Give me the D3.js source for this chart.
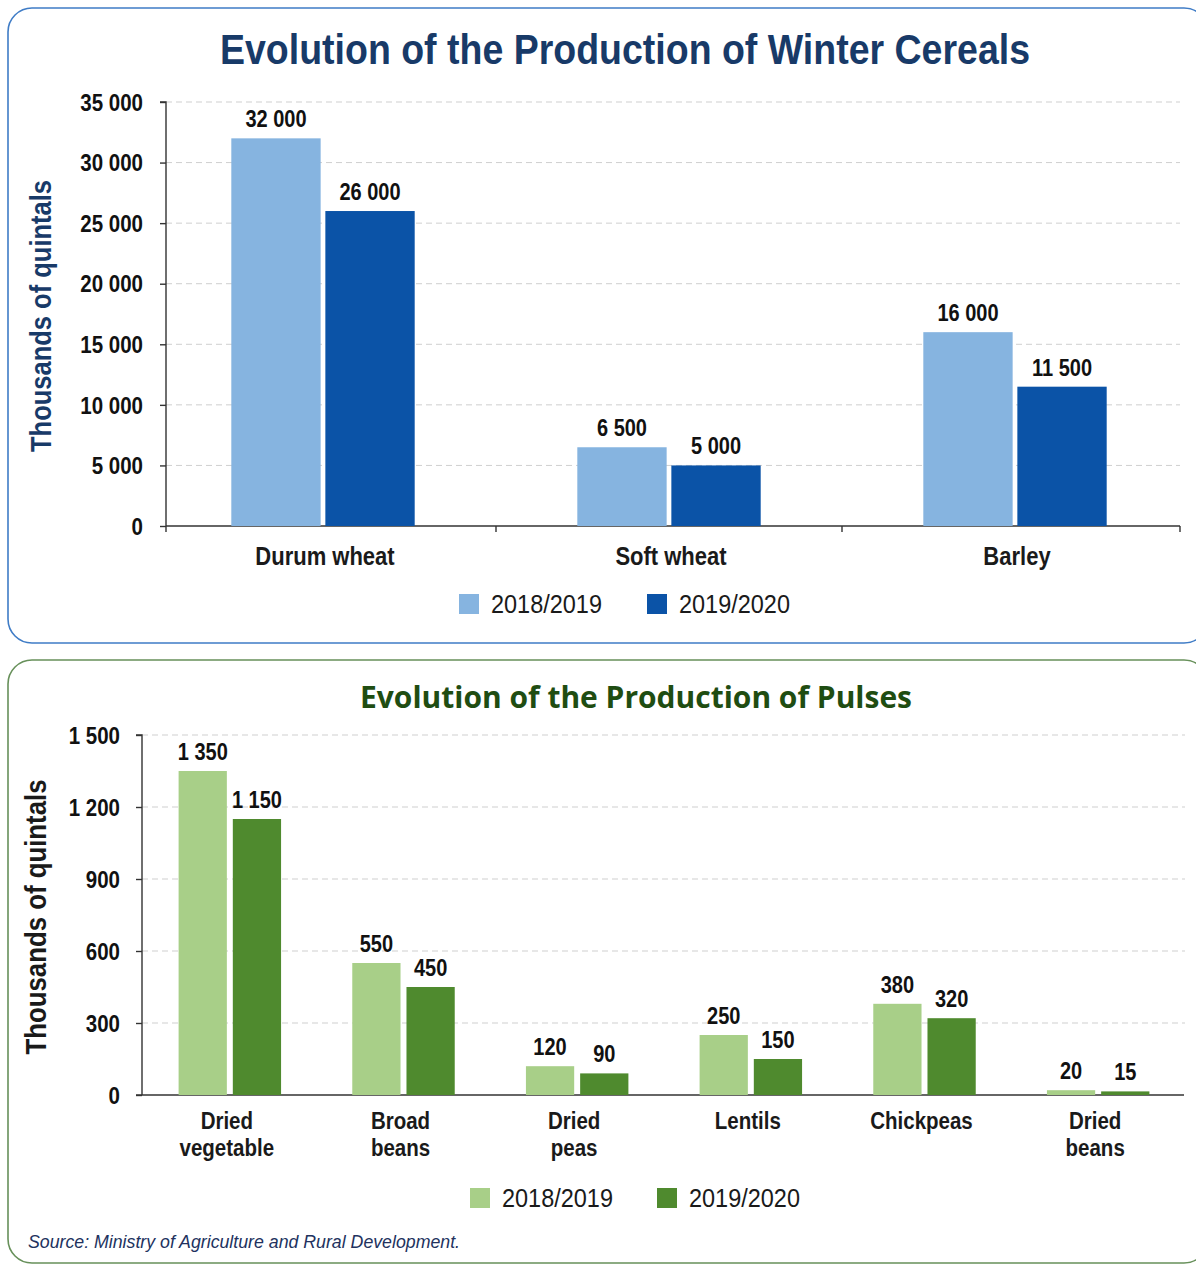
<!DOCTYPE html>
<html><head><meta charset="utf-8">
<script src="https://cdn.jsdelivr.net/npm/d3@7"></script>
<style>
html,body{margin:0;padding:0;background:#fff;}
svg{display:block;}
</style></head>
<body>
<svg id="chart" width="1196" height="1264"></svg>
<script>
// ---------- DATA ----------
const series = ["2018/2019", "2019/2020"];
const cerealCategories = ["Durum wheat", "Soft wheat", "Barley"];
const cereal2018 = [32000, 6500, 16000];
const cereal2019 = [26000, 5000, 11500];
const cerealTicks = [0, 5000, 10000, 15000, 20000, 25000, 30000, 35000];

const pulseCategories = [["Dried","vegetable"], ["Broad","beans"], ["Dried","peas"], ["Lentils"], ["Chickpeas"], ["Dried","beans"]];
const pulse2018 = [1350, 550, 120, 250, 380, 20];
const pulse2019 = [1150, 450, 90, 150, 320, 15];
const pulseTicks = [0, 300, 600, 900, 1200, 1500];

const titleCereals = "Evolution of the Production of Winter Cereals";
const titlePulses = "Evolution of the Production of Pulses";
const yTitle = "Thousands of quintals";
const sourceText = "Source: Ministry of Agriculture and Rural Development.";

// ---------- HELPERS ----------
const F = '"Liberation Sans", Arial, sans-serif';
const K = 1.18;        // enlarge glyphs, then squeeze horizontally (narrow look)
const fmt = v => d3.format(",")(v).replace(/,/g, " ");
const svg = d3.select("#chart").attr("font-family", F);

function condense(sel) {
  sel.each(function () {
    const w = this.getComputedTextLength();
    if (w > 0) d3.select(this).attr("textLength", w / K).attr("lengthAdjust", "spacingAndGlyphs");
  });
}

function panel(cfg) {
  const g = svg.append("g");
  g.append("rect").attr("x", cfg.box[0]).attr("y", cfg.box[1])
    .attr("width", cfg.box[2]).attr("height", cfg.box[3])
    .attr("rx", 24).attr("ry", 24)
    .attr("fill", "#fff").attr("stroke", cfg.border).attr("stroke-width", 1.6);
  g.append("text").attr("x", cfg.titlePos[0]).attr("y", cfg.titlePos[1])
    .attr("text-anchor", "middle").attr("font-weight", "bold")
    .attr("font-family", cfg.titleFont)
    .attr("font-size", cfg.titleSize).attr("fill", cfg.titleColor)
    .attr("textLength", cfg.titleLen).attr("lengthAdjust", "spacingAndGlyphs")
    .text(cfg.title);

  const y = d3.scaleLinear().domain(cfg.yDomain).range(cfg.yRange);
  const x0 = d3.scaleBand().domain(d3.range(cfg.cats.length)).range(cfg.xRange)
    .paddingInner(cfg.padInner).paddingOuter(cfg.padOuter);
  const x1 = d3.scaleBand().domain(series).range([0, x0.bandwidth()]).paddingInner(cfg.barGap);
  const color = d3.scaleOrdinal().domain(series).range(cfg.colors);

  g.append("g").selectAll("line").data(cfg.ticks.filter(t => t > 0)).join("line")
    .attr("x1", cfg.axisX).attr("x2", cfg.gridEnd)
    .attr("y1", d => y(d)).attr("y2", d => y(d))
    .attr("stroke", "#cfcfcf").attr("stroke-width", 1).attr("stroke-dasharray", "6,4");

  const yAxis = d3.axisLeft(y).tickValues(cfg.ticks).tickFormat(fmt).tickSize(6).tickPadding(cfg.tickPad);
  const ya = g.append("g").attr("transform", `translate(${cfg.axisX},0)`).call(yAxis);
  ya.attr("font-family", F);
  ya.select(".domain").attr("stroke", "#333").attr("stroke-width", 1.4).attr("d", `M-6,${y(cfg.yDomain[1])}H0V${y(0)}`);
  ya.selectAll(".tick line").attr("stroke", "#333").attr("stroke-width", 1.4);
  ya.selectAll(".tick text").attr("font-size", cfg.tickSize * K).attr("font-weight", "bold")
    .attr("fill", "#111").attr("dy", "0.34em").call(condense);

  g.append("line").attr("x1", cfg.xAxisStart).attr("x2", cfg.xAxisEnd)
    .attr("y1", y(0)).attr("y2", y(0)).attr("stroke", "#333").attr("stroke-width", 1.6);
  if (cfg.xTicks) {
    const bounds = [cfg.axisX].concat(d3.range(1, cfg.cats.length).map(i => x0(i) - x0.step() * x0.paddingInner() / 2)).concat([cfg.xAxisEnd]);
    g.append("g").selectAll("line").data(bounds).join("line")
      .attr("x1", d => d).attr("x2", d => d).attr("y1", y(0)).attr("y2", y(0) + 6)
      .attr("stroke", "#333").attr("stroke-width", 1.4);
  }

  const rows = cfg.cats.map((c, i) => ({ i, vals: [cfg.v1[i], cfg.v2[i]] }));
  const grp = g.append("g").selectAll("g").data(rows).join("g")
    .attr("transform", d => `translate(${x0(d.i)},0)`);
  grp.selectAll("rect").data(d => d.vals.map((v, j) => ({ s: series[j], v }))).join("rect")
    .attr("x", d => x1(d.s)).attr("width", x1.bandwidth())
    .attr("y", d => y(d.v)).attr("height", d => y(0) - y(d.v))
    .attr("fill", d => color(d.s));
  grp.selectAll("text.val").data(d => d.vals.map((v, j) => ({ s: series[j], v }))).join("text")
    .attr("class", "val")
    .attr("x", d => x1(d.s) + x1.bandwidth() / 2).attr("y", d => y(d.v) - cfg.valOffset)
    .attr("text-anchor", "middle").attr("font-size", cfg.valSize * K).attr("font-weight", "bold")
    .attr("fill", "#111").text(d => fmt(d.v)).call(condense);

  const cl = g.append("g").selectAll("text").data(cfg.cats).join("text")
    .attr("x", (d, i) => x0(i) + x0.bandwidth() / 2 + cfg.catShift)
    .attr("y", cfg.catY).attr("text-anchor", "middle")
    .attr("font-size", cfg.catSize * K).attr("font-weight", "bold").attr("fill", "#1a1a1a");
  cl.each(function (d) {
    const lines = Array.isArray(d) ? d : [d];
    d3.select(this).selectAll("tspan").data(lines).join("tspan")
      .attr("x", d3.select(this).attr("x")).attr("dy", (l, j) => j === 0 ? 0 : cfg.catLine)
      .text(l => l);
  });
  cl.selectAll("tspan").call(condense);

  g.append("text").attr("transform", `translate(${cfg.yTitlePos[0]},${cfg.yTitlePos[1]}) rotate(-90)`)
    .attr("text-anchor", "middle").attr("font-weight", "bold").attr("font-size", cfg.yTitleSize)
    .attr("fill", cfg.yTitleColor).attr("textLength", cfg.yTitleLen).attr("lengthAdjust", "spacingAndGlyphs")
    .text(yTitle);

  const lg = g.append("g").selectAll("g").data(series).join("g")
    .attr("transform", (d, i) => `translate(${cfg.legendX[i]},${cfg.legendY})`);
  lg.append("rect").attr("x", 0).attr("y", -10).attr("width", 20).attr("height", 20)
    .attr("fill", d => color(d));
  lg.append("text").attr("x", 32).attr("y", 9).attr("font-size", 25).attr("fill", "#1a1a1a")
    .attr("textLength", 111).attr("lengthAdjust", "spacingAndGlyphs")
    .text(d => d);
  return g;
}

// ---------- CEREALS ----------
panel({
  box: [8, 8, 1200, 635], border: "#3f7cc6",
  title: titleCereals, titlePos: [625, 64], titleSize: 42, titleLen: 810, titleColor: "#183a68",
  titleFont: F,
  yDomain: [0, 35000], yRange: [526, 102], ticks: cerealTicks, tickSize: 20.5, tickPad: 17,
  xRange: [150, 1188], padInner: 0.47, padOuter: 0.235, barGap: 0.05,
  axisX: 166, gridEnd: 1180, xAxisStart: 166, xAxisEnd: 1180, xTicks: true,
  cats: cerealCategories, v1: cereal2018, v2: cereal2019, colors: ["#86b4e0", "#0b53a7"],
  valOffset: 11, valSize: 20, catY: 565, catSize: 22, catLine: 28, catShift: 2,
  yTitlePos: [51, 316], yTitleSize: 30, yTitleLen: 272, yTitleColor: "#183a68",
  legendX: [459, 647], legendY: 604
});

// ---------- PULSES ----------
panel({
  box: [8, 660, 1200, 603], border: "#67905a",
  title: titlePulses, titlePos: [636, 708], titleSize: 30, titleLen: 552, titleColor: "#1f4d12",
  titleFont: "Open Sans, Noto Sans, sans-serif",
  yDomain: [0, 1500], yRange: [1095, 735], ticks: pulseTicks, tickSize: 20.5, tickPad: 16,
  xRange: [143, 1185], padInner: 0.41, padOuter: 0.205, barGap: 0.11,
  axisX: 142, gridEnd: 1185, xAxisStart: 136, xAxisEnd: 1184, xTicks: false,
  cats: pulseCategories, v1: pulse2018, v2: pulse2019, colors: ["#a8cf88", "#4f8a2e"],
  valOffset: 11, valSize: 20, catY: 1129, catSize: 20.5, catLine: 27, catShift: -3,
  yTitlePos: [46, 917], yTitleSize: 30, yTitleLen: 275, yTitleColor: "#1a1a1a",
  legendX: [470, 657], legendY: 1198
});

svg.append("text").attr("x", 28).attr("y", 1248).attr("font-size", 19).attr("font-style", "italic")
  .attr("font-family", F)
  .attr("fill", "#22325e").attr("textLength", 432).attr("lengthAdjust", "spacingAndGlyphs")
  .text(sourceText);
</script>
</body></html>
